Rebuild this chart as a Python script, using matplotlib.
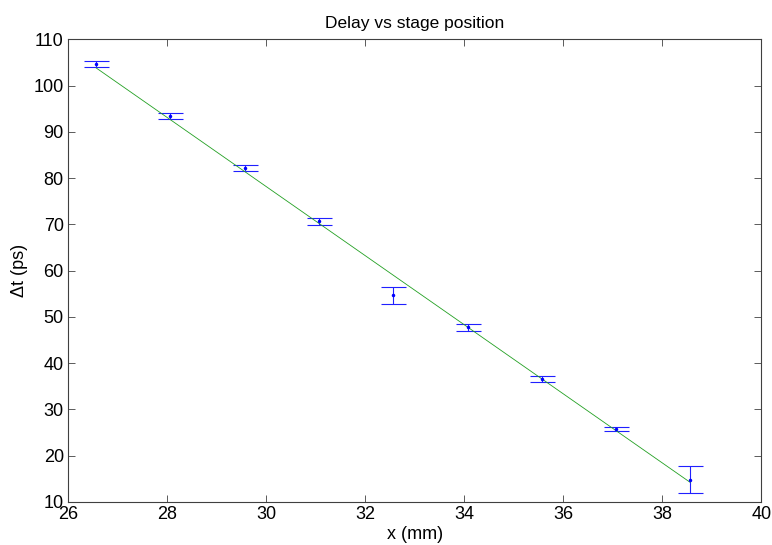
import numpy as np
import matplotlib.pyplot as plt

plt.rcParams['font.family'] = ['Liberation Sans', 'DejaVu Sans']

# measured stage positions (mm) and delays (ps)
x_pos = [26.57, 28.07, 29.57, 31.07, 32.57, 34.07, 35.57, 37.07, 38.57]
delay = [104.6, 93.4, 82.1, 70.7, 54.7, 47.8, 36.6, 25.8, 14.8]
delay_err = [0.65, 0.7, 0.65, 0.75, 1.85, 0.75, 0.65, 0.45, 2.95]

# linear fit endpoints
fit_x = [26.57, 38.57]
fit_y = [103.8, 14.2]

fig = plt.figure(figsize=(7.72, 5.45), dpi=100)
ax = fig.add_axes([0.088, 0.079, 0.898, 0.849])

ax.errorbar(x_pos, delay, yerr=delay_err, fmt='.', color='#0000ff',
            ecolor='#2020ff', elinewidth=0.8, capsize=9, capthick=0.8,
            markersize=3)
ax.plot(fit_x, fit_y, color='#22a022', linewidth=0.6)

ax.set_xlim(26, 40)
ax.set_ylim(10, 110)
ax.set_xticks(np.arange(26, 41, 2))
ax.set_yticks(np.arange(10, 111, 10))

ax.tick_params(direction='in', top=True, right=True, labelsize=13,
               length=5, width=0.6, color='#404040', pad=3)
for s in ax.spines.values():
    s.set_color('#404040')
    s.set_linewidth(0.8)

ax.set_title('Delay vs stage position', fontsize=12.5, pad=8)
ax.set_xlabel('x (mm)', fontsize=13, labelpad=2)
ax.set_ylabel('Δt (ps)', fontsize=13, labelpad=4)

fig.savefig('out.png', dpi=100)
